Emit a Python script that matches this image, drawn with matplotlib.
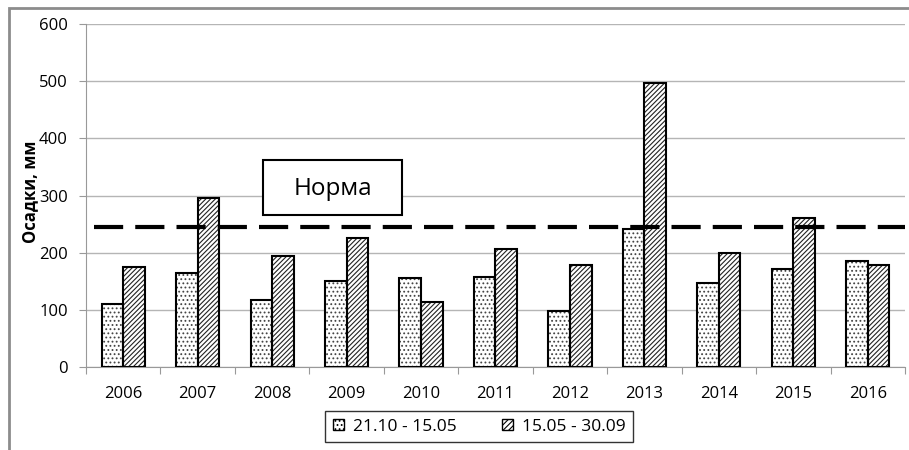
import numpy as np
import matplotlib
matplotlib.use('Agg')
from matplotlib import pyplot as plt
from matplotlib.patches import Rectangle, Patch

# precipitation per year, mm
years = ['2006', '2007', '2008', '2009', '2010', '2011', '2012', '2013', '2014', '2015', '2016']
cold_season = [111, 165, 118, 150, 156, 158, 98, 242, 147, 172, 186]
warm_season = [175, 295, 195, 225, 114, 207, 179, 496, 199, 260, 178]
norm_value = 245
series_labels = ['21.10 - 15.05', '15.05 - 30.09']
y_ticks = [0, 100, 200, 300, 400, 500, 600]

plt.rcParams['font.family'] = ['Open Sans', 'DejaVu Sans']
plt.rcParams['hatch.linewidth'] = 0.8

fig = plt.figure(figsize=(9.09, 4.5), dpi=100)
ax = fig.add_axes([0.0946, 0.1844, 0.901, 0.7623])

x = np.arange(len(years))
w = 0.29

# fill + hatch first, then black outline on top
ax.bar(x - w / 2, cold_season, w, color='white', edgecolor='#444444', hatch='....', linewidth=0, zorder=2)
ax.bar(x + w / 2, warm_season, w, color='white', edgecolor='#222222', hatch='///////', linewidth=0, zorder=2)
ax.bar(x - w / 2, cold_season, w, fill=False, edgecolor='black', linewidth=1.5, zorder=3)
ax.bar(x + w / 2, warm_season, w, fill=False, edgecolor='black', linewidth=1.5, zorder=3)

# norm line
ax.axhline(norm_value, xmin=0.01, xmax=1.0, color='black', linewidth=3, dashes=(7, 2.9), zorder=4)
ax.add_patch(Rectangle((1.88, 266), 1.87, 96, facecolor='white', edgecolor='black', linewidth=1.5, zorder=5))
ax.text(2.815, 312, 'Норма', ha='center', va='center', fontsize=17.5, zorder=6)

ax.set_xlim(-0.5, len(years) - 0.5)
ax.set_ylim(0, 600)
ax.set_yticks(y_ticks)
ax.tick_params(axis='y', length=5, color='#999999', labelsize=12, pad=8)
ax.yaxis.grid(True, color='#b5b5b5', linewidth=1)
ax.set_axisbelow(True)

# category labels centered, tick marks between categories
ax.set_xticks(np.arange(len(years) + 1) - 0.5)
ax.set_xticklabels([])
ax.tick_params(axis='x', length=5, color='#999999')
ax.set_xticks(x, minor=True)
ax.set_xticklabels(years, minor=True)
ax.tick_params(axis='x', which='minor', length=0, labelsize=12, pad=14)

for side in ['top', 'right']:
    ax.spines[side].set_visible(False)
ax.spines['left'].set_color('#999999')
ax.spines['bottom'].set_color('#999999')

ax.set_ylabel('Осадки, мм', fontsize=12, fontweight='bold')
ax.yaxis.set_label_coords(-0.057, 0.51)

handles = [Patch(facecolor='white', edgecolor='black', hatch='....', linewidth=1),
           Patch(facecolor='white', edgecolor='black', hatch='//////', linewidth=1)]
leg = fig.legend(handles, series_labels, loc='center', bbox_to_anchor=(0.527, 0.052), ncol=2,
                 fontsize=12.5, frameon=True, fancybox=False, edgecolor='black',
                 handlelength=0.65, handleheight=0.65, handletextpad=0.5, columnspacing=2.6,
                 borderpad=0.45, borderaxespad=0)
leg.get_frame().set_linewidth(1)

# outer chart frame
fig.patches.append(Rectangle((9 / 909, -0.1), 1.2, 1 - 8 / 450 + 0.1, transform=fig.transFigure,
                             fill=False, edgecolor='#8c8c8c', linewidth=2))

plt.savefig('out.png', dpi=100)
plt.close()
